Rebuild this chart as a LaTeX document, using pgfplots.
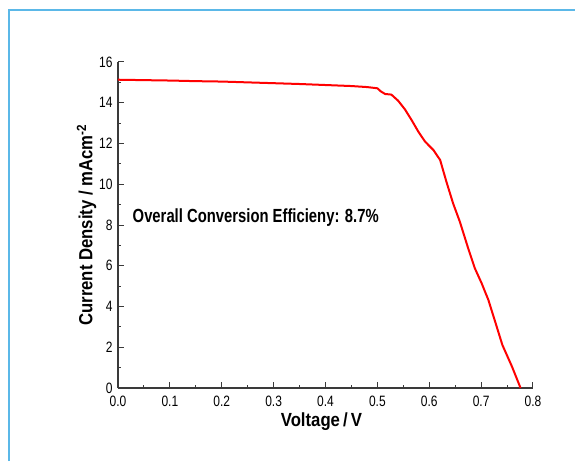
\documentclass[border=0pt]{standalone}
\usepackage{fontspec}
\usepackage{pgfplots}
\pgfplotsset{compat=1.18}
\setmainfont{Liberation Sans}
\newfontfamily\tickfont[FakeStretch=0.8]{Liberation Sans}
\newfontfamily\labfont[FakeStretch=0.88]{Liberation Sans}
\newfontfamily\annfont[FakeStretch=0.78]{Liberation Sans}
\definecolor{axgray}{HTML}{3A3A3A}
\definecolor{framebl}{HTML}{5BB8E8}
\begin{document}
\begin{tikzpicture}
\path[use as bounding box] (0pt,0pt) rectangle (575pt,461pt);
\fill[white] (0pt,0pt) rectangle (575pt,461pt);
\draw[framebl, line width=1.2pt] (9pt,0pt) -- (9pt,451pt) -- (575pt,451pt);
\begin{axis}[
  at={(118pt,73pt)}, anchor=south west,
  scale only axis, width=415pt, height=326pt,
  xmin=0, xmax=0.8, ymin=0, ymax=16,
  axis lines=left, axis line style={-, axgray, line width=1.2pt},
  xtick={0,0.1,...,0.8}, ytick={0,2,...,16},
  minor x tick num=1, minor y tick num=1,
  tick style={axgray, line width=1pt},
  major tick length=6pt, minor tick length=3pt,
  tick align=inside,
  xticklabels={0.0,0.1,0.2,0.3,0.4,0.5,0.6,0.7,0.8},
  /pgf/number format/assume math mode=true,
  ticklabel style={font=\tickfont\fontsize{15}{15}\selectfont, text=black},
  xticklabel style={yshift=-4pt},
  yticklabel style={xshift=-2pt},
  xlabel={\labfont\bfseries Voltage\,/\,V},
  ylabel={\labfont\bfseries Current Density / mAcm\textsuperscript{-2}},
  label style={font=\fontsize{19}{19}\selectfont},
  xlabel style={yshift=0pt, xshift=-4pt},
  ylabel style={yshift=-4pt},
  clip=false,
]
\addplot[red, line width=2pt] coordinates {
(0,15.13) (0.05,15.11) (0.1,15.09) (0.15,15.06) (0.2,15.04) (0.25,15.00)
(0.3,14.96) (0.35,14.92) (0.4,14.87) (0.45,14.82) (0.48,14.77) (0.50,14.71)
(0.507,14.55) (0.515,14.43) (0.527,14.40) (0.540,14.10) (0.553,13.68)
(0.566,13.15) (0.579,12.58) (0.592,12.09) (0.608,11.68) (0.621,11.19)
(0.633,10.13) (0.646,9.06) (0.659,8.16) (0.675,6.86) (0.688,5.87)
(0.701,5.14) (0.714,4.32) (0.727,3.26) (0.741,2.11) (0.759,1.08) (0.776,0)
};
\node[anchor=west, inner sep=0pt, font=\annfont\bfseries\fontsize{19}{19}\selectfont] at (axis cs:0.028,8.34) {Overall Conversion Efficieny: 8.7\%};
\end{axis}
\end{tikzpicture}
\end{document}
